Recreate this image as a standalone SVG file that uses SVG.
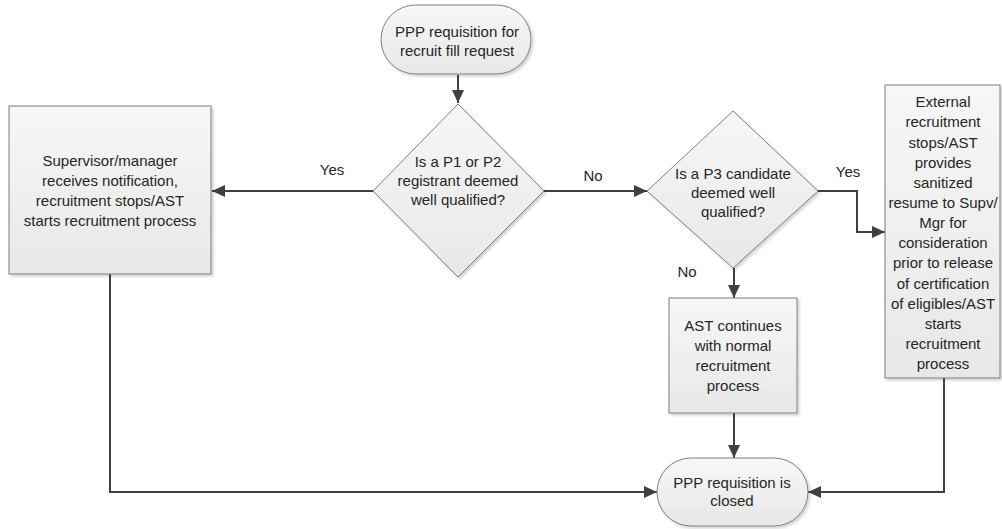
<svg xmlns="http://www.w3.org/2000/svg" width="1002" height="529" viewBox="0 0 1002 529">
<defs>
<linearGradient id="g" x1="0" y1="0" x2="0" y2="1">
<stop offset="0" stop-color="#f7f7f7"/>
<stop offset="1" stop-color="#e8e8e8"/>
</linearGradient>
<filter id="sh" x="-10%" y="-10%" width="130%" height="130%">
<feDropShadow dx="2" dy="2" stdDeviation="1.5" flood-color="#000" flood-opacity="0.18"/>
</filter>
<marker id="arr" markerUnits="userSpaceOnUse" markerWidth="14" markerHeight="14" viewBox="0 0 14 14" refX="13" refY="7" orient="auto">
<path d="M0,1 L13,7 L0,13 Z" fill="#404040"/>
</marker>
<style>
.shape{fill:url(#g);stroke:#7f7f7f;stroke-width:1;filter:url(#sh)}
.t{font-family:"Liberation Sans",Arial,sans-serif;font-size:15px;fill:#262626;text-anchor:middle}
.c{fill:none;stroke:#404040;stroke-width:2;marker-end:url(#arr)}
</style>
</defs>
<g id="connectors">
<path class="c" d="M458,75 V103"/>
<path class="c" d="M373,191 H212"/>
<path class="c" d="M544,191 H647"/>
<path class="c" d="M818,191 H857 V232 H885"/>
<path class="c" d="M734,268 V298"/>
<path class="c" d="M734,413 V458"/>
<path class="c" d="M110,274 V492 H657"/>
<path class="c" d="M944,378 V492 H808"/>
<text class="t" x="332" y="175">Yes</text>
<text class="t" x="593" y="181">No</text>
<text class="t" x="848" y="177">Yes</text>
<text class="t" x="687" y="277">No</text>
</g>
<g id="start">
<rect class="shape" x="381" y="5" width="150" height="69" rx="34.5" ry="34.5"/>
<text class="t" x="457" y="37">PPP requisition for</text>
<text class="t" x="457" y="56">recruit fill request</text>
</g>
<g id="decision1">
<polygon class="shape" points="458,104 544,191 458,277 373,191"/>
<text class="t" x="458" y="167">Is a P1 or P2</text>
<text class="t" x="458" y="186">registrant deemed</text>
<text class="t" x="458" y="205">well qualified?</text>
</g>
<g id="supervisor">
<rect class="shape" x="9" y="106" width="202" height="168"/>
<text class="t" x="110" y="166">Supervisor/manager</text>
<text class="t" x="110" y="186">receives notification,</text>
<text class="t" x="110" y="206">recruitment stops/AST</text>
<text class="t" x="110" y="226">starts recruitment process</text>
</g>
<g id="decision2">
<polygon class="shape" points="733,111 818,191 733,268 647,191"/>
<text class="t" x="733" y="179">Is a P3 candidate</text>
<text class="t" x="733" y="198">deemed well</text>
<text class="t" x="733" y="217">qualified?</text>
</g>
<g id="external">
<rect class="shape" x="885" y="85" width="115" height="293"/>
<text class="t" x="943" y="107">External</text>
<text class="t" x="943" y="127">recruitment</text>
<text class="t" x="943" y="148">stops/AST</text>
<text class="t" x="943" y="168">provides</text>
<text class="t" x="943" y="188">sanitized</text>
<text class="t" x="943" y="208">resume to Supv/</text>
<text class="t" x="943" y="228">Mgr for</text>
<text class="t" x="943" y="248">consideration</text>
<text class="t" x="943" y="268">prior to release</text>
<text class="t" x="943" y="289">of certification</text>
<text class="t" x="943" y="309">of eligibles/AST</text>
<text class="t" x="943" y="329">starts</text>
<text class="t" x="943" y="349">recruitment</text>
<text class="t" x="943" y="369">process</text>
</g>
<g id="ast">
<rect class="shape" x="669" y="298" width="128" height="115"/>
<text class="t" x="733" y="331">AST continues</text>
<text class="t" x="733" y="351">with normal</text>
<text class="t" x="733" y="371">recruitment</text>
<text class="t" x="733" y="391">process</text>
</g>
<g id="end">
<rect class="shape" x="657" y="458" width="151" height="68" rx="34" ry="34"/>
<text class="t" x="732" y="488">PPP requisition is</text>
<text class="t" x="732" y="506">closed</text>
</g>
</svg>
